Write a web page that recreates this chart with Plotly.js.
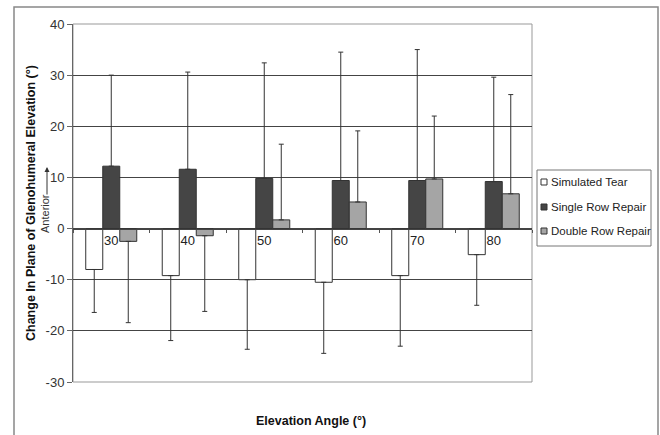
<!DOCTYPE html>
<html>
<head>
<meta charset="utf-8">
<script src="https://cdn.plot.ly/plotly-3.0.1.min.js"></script>
<style>html,body{margin:0;padding:0;background:#fff;}#chart{width:660px;height:435px;}</style>
</head>
<body>
<div id="chart"></div>
<script>
// Data
const categories = ["30", "40", "50", "60", "70", "80"];
const seriesNames = ["Simulated Tear", "Single Row Repair", "Double Row Repair"];
const seriesColors = ["#ffffff", "#454545", "#a5a5a5"];
const simulatedTear = [-8.0, -9.2, -10.0, -10.5, -9.2, -5.1];
const simulatedTearErr = [8.4, 12.7, 13.6, 13.9, 13.8, 9.9];
const singleRow = [12.2, 11.6, 9.8, 9.4, 9.4, 9.2];
const singleRowErr = [17.8, 19.0, 22.6, 25.1, 25.6, 20.4];
const doubleRow = [-2.5, -1.4, 1.7, 5.2, 9.7, 6.8];
const doubleRowErr = [15.9, 14.8, 14.8, 13.9, 12.3, 19.4];
const yTicks = [-30, -20, -10, 0, 10, 20, 30, 40];

const FONT = "Liberation Sans, Arial, sans-serif";

// one-sided error bars pointing away from zero
function errUp(vals, errs) { return vals.map((v, i) => v >= 0 ? errs[i] : 0); }
function errDown(vals, errs) { return vals.map((v, i) => v < 0 ? errs[i] : 0); }

function barTrace(name, vals, errs, fill) {
  return {
    type: "bar", name: name, x: categories, y: vals, showlegend: false,
    marker: { color: fill, line: { color: "#333", width: 1 } },
    error_y: { type: "data", symmetric: false, array: errUp(vals, errs), arrayminus: errDown(vals, errs),
               color: "#333", thickness: 1, width: 2.5 }
  };
}

const data = [
  barTrace(seriesNames[0], simulatedTear, simulatedTearErr, seriesColors[0]),
  barTrace(seriesNames[1], singleRow, singleRowErr, seriesColors[1]),
  barTrace(seriesNames[2], doubleRow, doubleRowErr, seriesColors[2])
];

// pixel -> paper helpers (plot area: x 73..532, y 24..382)
const L = 73, R = 532, T = 24, B = 382;
const px = p => (p - L) / (R - L);
const py = p => (B - p) / (B - T);

const shapes = [
  { type: "rect", xref: "paper", yref: "paper", x0: 0, x1: 1, y0: 0, y1: 1,
    line: { color: "#999", width: 1 }, layer: "below" },
  { type: "rect", xref: "paper", yref: "paper", x0: px(14), x1: px(658), y0: py(440), y1: py(7),
    line: { color: "#888", width: 1.5 } },
  // legend box
  { type: "rect", xref: "paper", yref: "paper", x0: px(537), x1: px(651), y0: py(246), y1: py(170),
    line: { color: "#777", width: 1 }, fillcolor: "#fff" }
];
const annotations = [
  { xref: "paper", yref: "paper", x: px(31), y: 0.5, xanchor: "center", yanchor: "middle",
    text: "<b>Change In Plane of Glenohumeral Elevation (°)</b>", textangle: -90, showarrow: false,
    font: { family: FONT, size: 12.5, color: "#111" } },
  { xref: "paper", yref: "paper", x: px(45), y: py(214), xanchor: "center", yanchor: "middle",
    text: "Anterior", textangle: -90, showarrow: false,
    font: { family: FONT, size: 11, color: "#333" } },
  { xref: "paper", yref: "paper", x: px(47), y: py(167), text: "", showarrow: true,
    ax: 0, ay: 29, arrowhead: 2, arrowsize: 1, arrowwidth: 1, arrowcolor: "#333" },
  { xref: "paper", yref: "paper", x: px(311), y: py(421), xanchor: "center", yanchor: "middle",
    text: "<b>Elevation Angle (°)</b>", showarrow: false,
    font: { family: FONT, size: 12.5, color: "#111" } }
];
// custom legend entries
const legendRows = [182, 207, 231];
seriesNames.forEach((name, i) => {
  const yc = legendRows[i];
  shapes.push({ type: "rect", xref: "paper", yref: "paper",
    x0: px(541), x1: px(547), y0: py(yc + 3), y1: py(yc - 3),
    fillcolor: seriesColors[i], line: { color: "#333", width: 1 } });
  annotations.push({ xref: "paper", yref: "paper", x: px(549), y: py(yc), xanchor: "left", yanchor: "middle",
    text: name, showarrow: false, font: { family: FONT, size: 11.5, color: "#222" } });
});

const layout = {
  width: 660, height: 435,
  margin: { l: L, r: 660 - R, t: T, b: 435 - B, autoexpand: false },
  paper_bgcolor: "#fff", plot_bgcolor: "#fff",
  font: { family: FONT, size: 12, color: "#222" },
  barmode: "group", bargap: 0.333, bargroupgap: 0,
  showlegend: false,
  xaxis: {
    type: "category", anchor: "free", position: 30 / 70,
    showline: true, linecolor: "#444", linewidth: 1,
    ticks: "outside", tickson: "boundaries", ticklen: 3, tickcolor: "#555",
    showgrid: false, zeroline: false,
    tickfont: { family: FONT, size: 13, color: "#222" }
  },
  yaxis: {
    range: [-30, 40], tickvals: yTicks, ticktext: yTicks.map(String),
    showline: true, linecolor: "#666", linewidth: 1,
    ticks: "outside", ticklen: 5, tickcolor: "#666",
    showgrid: true, gridcolor: "#444", gridwidth: 1,
    zeroline: false,
    tickfont: { family: FONT, size: 13, color: "#333" }
  },
  shapes: shapes,
  annotations: annotations
};

Plotly.newPlot("chart", data, layout, { displayModeBar: false, staticPlot: true });
</script>
</body>
</html>
